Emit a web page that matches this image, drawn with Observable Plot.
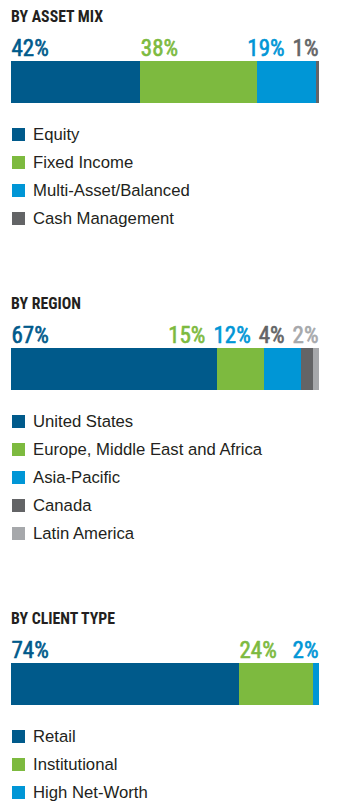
<!DOCTYPE html>
<html>
<head>
<meta charset="utf-8">
<script src="https://cdn.jsdelivr.net/npm/d3@7"></script>
<script src="https://cdn.jsdelivr.net/npm/@observablehq/plot@0.6"></script>
<style>
  html, body { margin: 0; padding: 0; background: #fff; }
  body { width: 337px; padding-top: 7.5px; }
  .section { margin-bottom: 62px; }
  .title {
    font-family: "Roboto Condensed", "Open Sans", sans-serif;
    font-stretch: 75%;
    font-weight: bold; font-size: 17px; line-height: 16px; height: 16px;
    color: #231f20; margin: 0 0 9.5px 11px;
    transform: scaleX(0.93); transform-origin: left center; white-space: nowrap;
  }
  .plot svg { display: block; }
  .legend { margin-top: 17.5px; }
  .row { height: 28px; display: flex; align-items: center; }
  .sw { width: 13px; height: 13px; margin-left: 12px; margin-right: 8px; flex: none; }
  .lab { font-family: "Liberation Sans", Arial, sans-serif; font-size: 16.7px; color: #231f20; }
</style>
</head>
<body>
<div id="root"></div>
<script>
// ---- data ----
const assetCategories = ["Equity", "Fixed Income", "Multi-Asset/Balanced", "Cash Management"];
const assetValues = [42, 38, 19, 1];

const regionCategories = ["United States", "Europe, Middle East and Africa", "Asia-Pacific", "Canada", "Latin America"];
const regionValues = [67, 15, 12, 4, 2];

const clientCategories = ["Retail", "Institutional", "High Net-Worth"];
const clientValues = [74, 24, 2];

const palette = ["#005a8b", "#7dba3f", "#0096d6", "#636466", "#a6a8ab"];

const sections = [
  {title: "BY ASSET MIX", categories: assetCategories, values: assetValues},
  {title: "BY REGION", categories: regionCategories, values: regionValues},
  {title: "BY CLIENT TYPE", categories: clientCategories, values: clientValues}
];

// ---- layout ----
const W = 337, ML = 11, MR = 18, MT = 28, BAR_H = 42;
const LABEL_FAMILY = '"Roboto Condensed", "Open Sans", sans-serif';
const LABEL_SIZE = 23;
const ctx = document.createElement("canvas").getContext("2d");
ctx.font = `${LABEL_SIZE}px ${LABEL_FAMILY}`;
const GAP = 8;

const root = document.getElementById("root");

for (const s of sections) {
  const sec = document.createElement("div");
  sec.className = "section";
  const t = document.createElement("div");
  t.className = "title";
  t.textContent = s.title;
  sec.appendChild(t);

  const data = s.categories.map((c, i) => ({category: c, value: s.values[i]}));
  let cum = 0;
  for (const d of data) { d.start = cum; cum += d.value; d.label = d.value + "%"; }

  // place labels: left-aligned at segment start, pushed left to avoid overlap
  const xs = d3.scaleLinear([0, 100], [ML, W - MR]);
  let limit = xs(100) - 1;
  for (let i = data.length - 1; i >= 0; i--) {
    const w = ctx.measureText(data[i].label).width;
    const left = Math.min(xs(data[i].start), limit - w);
    data[i].labelX = xs.invert(left);
    limit = left - GAP;
  }

  const chart = Plot.plot({
    width: W,
    height: MT + BAR_H,
    marginLeft: ML, marginRight: MR, marginTop: MT, marginBottom: 0,
    x: {domain: [0, 100], axis: null},
    color: {domain: s.categories, range: palette.slice(0, s.categories.length)},
    marks: [
      Plot.barX(data, {x1: "start", x2: d => d.start + d.value, fill: "category", inset: 0, shapeRendering: "crispEdges"}),
      Plot.text(data, {
        x: "labelX", text: "label", fill: "category", stroke: "category", strokeWidth: 0.6,
        frameAnchor: "top", textAnchor: "start", lineAnchor: "bottom", dy: -6,
        fontSize: LABEL_SIZE,
        fontFamily: LABEL_FAMILY
      })
    ]
  });
  const pd = document.createElement("div");
  pd.className = "plot";
  pd.appendChild(chart);
  sec.appendChild(pd);

  const lg = document.createElement("div");
  lg.className = "legend";
  s.categories.forEach((c, i) => {
    const r = document.createElement("div");
    r.className = "row";
    const sw = document.createElement("span");
    sw.className = "sw";
    sw.style.background = palette[i];
    const lb = document.createElement("span");
    lb.className = "lab";
    lb.textContent = c;
    r.appendChild(sw); r.appendChild(lb);
    lg.appendChild(r);
  });
  sec.appendChild(lg);
  root.appendChild(sec);
}
</script>
</body>
</html>
